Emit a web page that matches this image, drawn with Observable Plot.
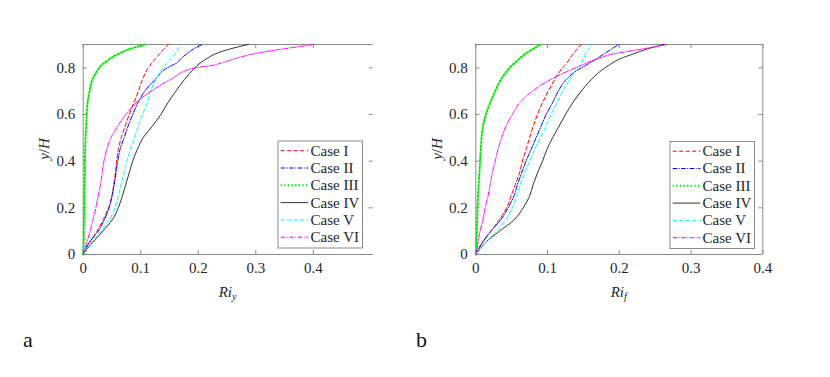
<!DOCTYPE html>
<html><head><meta charset="utf-8">
<script src="https://cdn.jsdelivr.net/npm/d3@7"></script>
<script src="https://cdn.jsdelivr.net/npm/@observablehq/plot@0.6"></script>
<style>
body{margin:0;background:#fff;}
#fig{position:relative;width:830px;height:377px;background:#fff;}
#fig svg{position:absolute;top:0;}
</style></head><body>
<div id="fig"></div>
<script>
// ---------- data ----------
const caseNames = ["Case I", "Case II", "Case III", "Case IV", "Case V", "Case VI"];
const yLevels = [0, 0.025, 0.05, 0.1, 0.15, 0.2, 0.25, 0.3, 0.35, 0.4, 0.45, 0.5, 0.55, 0.6, 0.65, 0.7, 0.75, 0.8, 0.81, 0.82, 0.84, 0.86, 0.88, 0.9];
const yTicks = [0, 0.2, 0.4, 0.6, 0.8];
const xTicksA = [0, 0.1, 0.2, 0.3, 0.4];
const xTicksB = [0, 0.1, 0.2, 0.3, 0.4];

// panel a: Ri_y at each y/H level
const riY_I   = [0, 0.005, 0.011, 0.024, 0.035, 0.044, 0.050, 0.053, 0.056, 0.058, 0.061, 0.066, 0.073, 0.080, 0.088, 0.096, 0.103, 0.113, 0.116, 0.119, 0.126, 0.133, 0.140, 0.148];
const riY_II  = [0, 0.004, 0.010, 0.026, 0.037, 0.045, 0.050, 0.054, 0.057, 0.060, 0.064, 0.071, 0.078, 0.086, 0.095, 0.107, 0.125, 0.146, 0.154, 0.162, 0.170, 0.180, 0.191, 0.207];
const riY_III = [0, 0.0005, 0.001, 0.001, 0.0015, 0.002, 0.002, 0.0025, 0.003, 0.003, 0.0035, 0.004, 0.005, 0.006, 0.0075, 0.011, 0.016, 0.028, 0.031, 0.036, 0.047, 0.061, 0.080, 0.108];
const riY_IV  = [0, 0.007, 0.016, 0.034, 0.051, 0.061, 0.068, 0.074, 0.080, 0.086, 0.094, 0.104, 0.120, 0.135, 0.147, 0.161, 0.176, 0.194, 0.198, 0.203, 0.215, 0.230, 0.254, 0.287];
const riY_V   = [0, 0.006, 0.014, 0.031, 0.046, 0.055, 0.061, 0.066, 0.071, 0.076, 0.082, 0.089, 0.096, 0.103, 0.111, 0.117, 0.126, 0.139, 0.142, 0.146, 0.153, 0.160, 0.165, 0.168];
const riY_VI  = [0, 0.003, 0.006, 0.012, 0.017, 0.022, 0.026, 0.030, 0.033, 0.036, 0.041, 0.048, 0.060, 0.074, 0.092, 0.118, 0.152, 0.194, 0.224, 0.239, 0.265, 0.296, 0.345, 0.401];

// panel b: Ri_f at each y/H level
const riF_I   = [0, 0.004, 0.009, 0.021, 0.033, 0.043, 0.049, 0.055, 0.061, 0.065, 0.070, 0.075, 0.080, 0.086, 0.093, 0.101, 0.110, 0.121, 0.124, 0.127, 0.131, 0.136, 0.141, 0.147];
const riF_II  = [0, 0.004, 0.009, 0.021, 0.035, 0.045, 0.053, 0.058, 0.064, 0.070, 0.077, 0.084, 0.091, 0.098, 0.107, 0.115, 0.126, 0.147, 0.153, 0.158, 0.169, 0.179, 0.189, 0.199];
const riF_III = [0, 0.0005, 0.001, 0.0015, 0.002, 0.0025, 0.003, 0.004, 0.005, 0.006, 0.007, 0.008, 0.010, 0.014, 0.020, 0.027, 0.035, 0.047, 0.050, 0.054, 0.061, 0.069, 0.079, 0.090];
const riF_IV  = [0, 0.006, 0.013, 0.033, 0.054, 0.066, 0.075, 0.080, 0.086, 0.093, 0.099, 0.107, 0.116, 0.125, 0.135, 0.147, 0.161, 0.180, 0.185, 0.190, 0.202, 0.220, 0.238, 0.262];
const riF_V   = [0, 0.006, 0.013, 0.029, 0.042, 0.051, 0.057, 0.062, 0.068, 0.075, 0.082, 0.090, 0.098, 0.105, 0.113, 0.121, 0.131, 0.142, 0.145, 0.147, 0.150, 0.153, 0.157, 0.160];
const riF_VI  = [0, 0.002, 0.003, 0.006, 0.010, 0.013, 0.017, 0.020, 0.023, 0.027, 0.031, 0.036, 0.042, 0.051, 0.061, 0.079, 0.104, 0.139, 0.147, 0.154, 0.171, 0.192, 0.231, 0.267];

// ---------- styles ----------
const colors = ["#ff0000", "#0000ff", "#00ee00", "#000000", "#00ffff", "#ff00ff"];
const dashes = ["4,2.5", "4.5,1.5,1,1.5", "1.4,2.2", null, "4,2.5", "4.5,1.5,1,1.5"];
const widths = [1, 1, 2, 0.8, 1, 1];
const axisColor = "#8a8a8a";
const textColor = "#262626";
const FONT = "Liberation Serif, serif";
const fmt = d => d === 0 ? "0" : String(d);

function panel(o) {
  const W = 415, H = 377, mTop = 44, mBottom = 123;
  const pw = W - o.mLeft - o.mRight, ph = H - mTop - mBottom;
  const marks = [
    Plot.ruleY([0], {stroke: axisColor}),
    Plot.ruleY([0.9], {stroke: axisColor}),
    Plot.ruleX([0], {stroke: axisColor}),
  ];
  if (o.rightLine) marks.push(Plot.ruleX([o.xMax], {stroke: axisColor}));
  marks.push(
    Plot.tickX(o.xTicks, {x: d => d, insetTop: ph - 4, stroke: axisColor}),
    Plot.tickX(o.xTicks, {x: d => d, insetBottom: ph - 4, stroke: axisColor}),
    Plot.tickY(yTicks, {y: d => d, insetRight: pw - 4, stroke: axisColor}),
    Plot.tickY(yTicks, {y: d => d, insetLeft: pw - 4, stroke: axisColor}),
    Plot.text(o.xTicks, {x: d => d, frameAnchor: "bottom", dy: 18, text: fmt, fill: textColor,
      fontFamily: FONT, fontSize: 15}),
    Plot.text(yTicks, {y: d => d, frameAnchor: "left", dx: -8, textAnchor: "end", text: fmt, fill: textColor,
      fontFamily: FONT, fontSize: 15})
  );
  o.series.forEach((xs, i) => {
    const rows = xs.map((x, j) => ({x, y: yLevels[j]}));
    marks.push(Plot.line(rows, {x: "x", y: "y", stroke: colors[i], strokeWidth: widths[i],
      strokeDasharray: dashes[i], curve: "monotone-y"}));
  });
  const svg = Plot.plot({
    width: W, height: H, marginLeft: o.mLeft, marginRight: o.mRight, marginTop: mTop, marginBottom: mBottom,
    x: {domain: [0, o.xMax], axis: null},
    y: {domain: [0, 0.9], axis: null},
    style: {fontFamily: FONT, fontSize: "15px", background: "transparent", overflow: "visible"},
    marks
  });
  const s = d3.select(svg);
  // axis labels
  const xl = s.append("text").attr("x", o.mLeft + pw / 2).attr("y", 296.5)
    .attr("text-anchor", "middle").attr("font-family", FONT).attr("font-size", 15)
    .attr("font-style", "italic").attr("fill", textColor);
  xl.append("tspan").text("Ri");
  xl.append("tspan").attr("font-size", 10.5).attr("dy", 3).text(o.sub);
  const yx = o.mLeft - 33.5, yy = mTop + ph / 2;
  const yl = s.append("text").attr("transform", `translate(${yx},${yy}) rotate(-90)`)
    .attr("text-anchor", "middle").attr("font-family", FONT).attr("font-size", 15)
    .attr("fill", textColor);
  yl.append("tspan").attr("font-style", "italic").text("y");
  yl.append("tspan").text("/");
  yl.append("tspan").attr("font-style", "italic").text("H");
  // legend
  const lx = o.legX, ly = o.legY, lw = 84.5, lh = 107;
  const lg = s.append("g").attr("font-family", FONT).attr("font-size", 15).attr("text-anchor", "start");
  lg.append("rect").attr("x", lx).attr("y", ly).attr("width", lw).attr("height", lh)
    .attr("fill", "#fff").attr("stroke", axisColor).attr("stroke-width", 1);
  caseNames.forEach((name, i) => {
    const cy = ly + 9.7 + i * 17.3;
    lg.append("line").attr("x1", lx + 2.7).attr("x2", lx + 30.3).attr("y1", cy).attr("y2", cy)
      .attr("stroke", colors[i]).attr("stroke-width", widths[i])
      .attr("stroke-dasharray", dashes[i]);
    lg.append("text").attr("x", lx + 32.5).attr("y", cy).attr("dy", "0.33em")
      .attr("text-anchor", "start").attr("fill", textColor).text(name);
  });
  // panel tag
  s.append("text").attr("x", o.tagX).attr("y", 347).attr("font-family", FONT)
    .attr("text-anchor", "start").attr("font-size", 22).attr("fill", "#111").text(o.tag);
  return svg;
}

const fig = document.getElementById("fig");
const a = panel({series: [riY_I, riY_II, riY_III, riY_IV, riY_V, riY_VI], xMax: 0.504, xTicks: xTicksA,
  mLeft: 82.7, mRight: 42.3, rightLine: false, sub: "y", legX: 278, legY: 141, tag: "a", tagX: 23});
a.style.left = "0px";
fig.appendChild(a);
const b = panel({series: [riF_I, riF_II, riF_III, riF_IV, riF_V, riF_VI], xMax: 0.4, xTicks: xTicksB,
  mLeft: 60.3, mRight: 67.7, rightLine: true, sub: "f", legX: 255, legY: 141.5, tag: "b", tagX: 1});
b.style.left = "415px";
fig.appendChild(b);
</script>
</body></html>
